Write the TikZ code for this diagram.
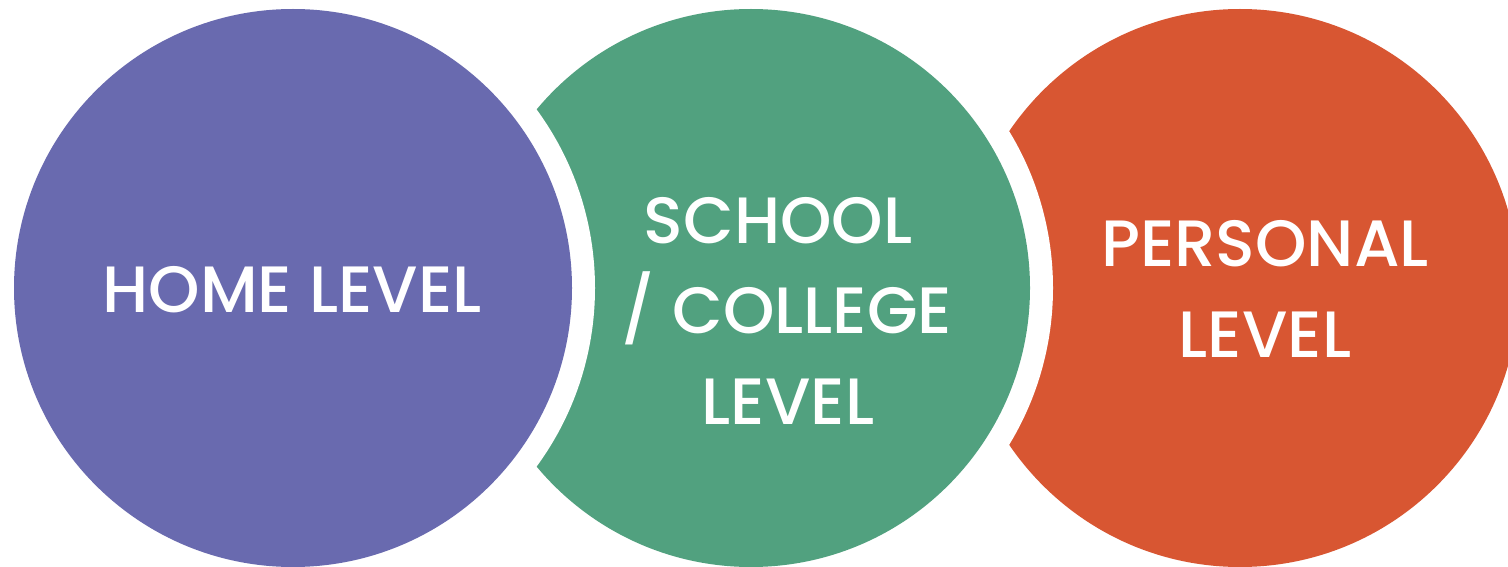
\documentclass[tikz,border=0pt]{standalone}
\usepackage{fontspec}
\setmainfont{Poppins}[UprightFont={* Medium}]
\definecolor{purplec}{RGB}{105,106,175}
\definecolor{greenc}{RGB}{81,161,127}
\definecolor{orangec}{RGB}{216,86,50}
\tikzset{
  lbl/.style={anchor=base, text=white, inner sep=0pt, font=\fontsize{65.5}{78}\selectfont},
  gap/.style={fill=white},
}
\begin{document}
\begin{tikzpicture}[x=1pt,y=-1pt]
\useasboundingbox (0,0) rectangle (1508,567);
\clip (0,0) rectangle (1508,567);
\fill[white] (0,0) rectangle (1508,567);
\fill[orangec] (1240,288) circle[radius=279];
\fill[gap] (751,288) circle[radius=302];
\fill[greenc] (751,288) circle[radius=279];
\fill[gap] (293,288) circle[radius=302];
\fill[purplec] (293,288) circle[radius=279];
\node[lbl] (home) at (292,312) {HOME LEVEL};
\node[lbl] (school) at (778,243) {SCHOOL};
\node[lbl] (college) at (787,333) {/ COLLEGE};
\node[lbl] (level2) at (788,424) {LEVEL};
\node[lbl] (personal) at (1265,266) {PERSONAL};
\node[lbl] (level3) at (1265,357) {LEVEL};
\end{tikzpicture}
\end{document}
